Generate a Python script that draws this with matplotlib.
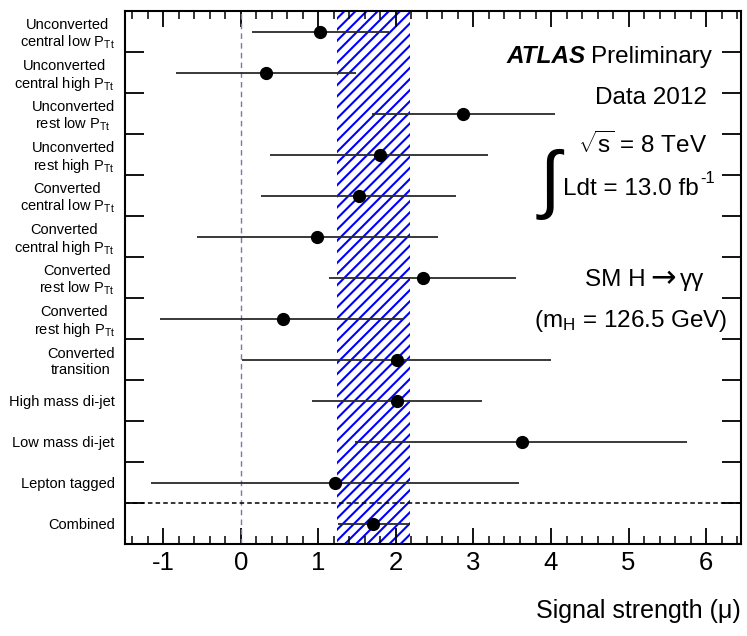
import matplotlib
matplotlib.use("Agg")
import matplotlib.pyplot as plt
from matplotlib.ticker import MultipleLocator, FixedLocator, NullFormatter, FixedFormatter
from matplotlib import font_manager
import numpy as np

# ---------------- data ----------------
categories = [
    "Unconverted\ncentral low P$_{\\mathregular{Tt}}$",
    "Unconverted\ncentral high P$_{\\mathregular{Tt}}$",
    "Unconverted\nrest low P$_{\\mathregular{Tt}}$",
    "Unconverted\nrest high P$_{\\mathregular{Tt}}$",
    "Converted\ncentral low P$_{\\mathregular{Tt}}$",
    "Converted\ncentral high P$_{\\mathregular{Tt}}$",
    "Converted\nrest low P$_{\\mathregular{Tt}}$",
    "Converted\nrest high P$_{\\mathregular{Tt}}$",
    "Converted\ntransition",
    "High mass di-jet",
    "Low mass di-jet",
    "Lepton tagged",
    "Combined",
]
mu_central = [1.02, 0.33, 2.86, 1.79, 1.52, 0.98, 2.35, 0.54, 2.01, 2.02, 3.63, 1.22, 1.71]
mu_low     = [0.14, -0.83, 1.69, 0.38, 0.26, -0.56, 1.14, -1.04, 0.02, 0.92, 1.47, -1.16, 1.25]
mu_high    = [1.91, 1.48, 4.05, 3.19, 2.77, 2.54, 3.55, 2.11, 4.00, 3.11, 5.76, 3.59, 2.17]
combined_band = (1.24, 2.18)
x_ticks = [-1, 0, 1, 2, 3, 4, 5, 6]
x_tick_labels = ["-1", "0", "1", "2", "3", "4", "5", "6"]

# ---------------- style ----------------
plt.rcParams['font.family'] = ['Liberation Sans', 'DejaVu Sans']
plt.rcParams['mathtext.fontset'] = 'custom'
plt.rcParams['mathtext.rm'] = 'Liberation Sans'
plt.rcParams['mathtext.it'] = 'Liberation Sans:italic'
plt.rcParams['mathtext.bf'] = 'Liberation Sans:bold'
plt.rcParams['axes.unicode_minus'] = False
plt.rcParams['hatch.color'] = '#0000ff'
plt.rcParams['hatch.linewidth'] = 1.5

# narrow font for the category labels if present
try:
    font_manager.findfont(font_manager.FontProperties(family='Liberation Sans Narrow'),
                          fallback_to_default=False)
    label_family = ['Liberation Sans Narrow', 'Liberation Sans', 'DejaVu Sans']
    label_size = 12
except Exception:
    label_family = ['Liberation Sans', 'DejaVu Sans']
    label_size = 10.5

fig = plt.figure(figsize=(7.47, 6.36), dpi=100)
ax = fig.add_axes([0.16667, 0.14465, 0.8253, 0.838])

n = len(categories)
ypos = np.arange(n)[::-1] + 0.5  # top row first

ax.set_xlim(-1.5, 6.45)
ax.set_ylim(0, n)

# hatched combined band
ax.axvspan(combined_band[0], combined_band[1], facecolor='white',
           edgecolor='#0000ff', hatch='///', linewidth=0, zorder=1)

# mu = 0 line
ax.axvline(0, color='#7a7aaa', linestyle=(0, (4, 3)), linewidth=1.0, zorder=2)

# separator between categories and combined
ax.axhline(1, color='black', linestyle=(0, (3, 2)), linewidth=1.1, zorder=2)

c = np.array(mu_central)
xerr = np.vstack([c - np.array(mu_low), np.array(mu_high) - c])
ax.errorbar(c, ypos, xerr=xerr, fmt='o', color='black', ecolor='#2a2a2a',
            elinewidth=1.3, markersize=8.5, capsize=0, zorder=4)

# axes frame and ticks
for s in ax.spines.values():
    s.set_linewidth(1.5)

ax.xaxis.set_major_locator(FixedLocator(x_ticks))
ax.xaxis.set_major_formatter(FixedFormatter(x_tick_labels))
ax.xaxis.set_minor_locator(MultipleLocator(0.2))
ax.tick_params(axis='x', which='major', direction='in', length=11.5, width=1.3,
               top=True, bottom=True, labelsize=18.5, pad=5)
ax.tick_params(axis='x', which='minor', direction='in', length=5.5, width=1.1,
               top=True, bottom=True)

# y: major ticks at row boundaries, labels at row centers (minor)
ax.yaxis.set_major_locator(FixedLocator(np.arange(1, n)))
ax.yaxis.set_major_formatter(NullFormatter())
ax.yaxis.set_minor_locator(FixedLocator(ypos))
ax.yaxis.set_minor_formatter(FixedFormatter(categories))
ax.tick_params(axis='y', which='major', direction='in', length=13.5, width=1.3,
               left=True, right=True)
ax.tick_params(axis='y', which='minor', length=0, labelsize=label_size, pad=7)
for lab in ax.yaxis.get_minorticklabels():
    lab.set_multialignment('center')
    lab.set_linespacing(1.15)
    lab.set_family(label_family)

# x label
ax.set_xlabel("Signal strength (\u03bc)", fontsize=18)
ax.xaxis.set_label_coords(1.0, -0.139)
ax.xaxis.label.set_ha('right')
ax.xaxis.label.set_va('baseline')

# annotation texts (positions in axes fraction)
def fx(px):
    return (px - 124.5) / 616.5

def fy(py):
    return (544 - py) / 533.0

fs = 17.5
tkw = dict(transform=ax.transAxes, ha='right', va='baseline', fontsize=fs)
renderer = fig.canvas.get_renderer()
inv = ax.transAxes.inverted()

def ax_x(px_disp):
    return inv.transform((px_disp, 0))[0]

prelim = ax.text(fx(712), fy(63), "Preliminary", **tkw)
bb = prelim.get_window_extent(renderer=renderer)
ax.text(ax_x(bb.x0 - 6), fy(63), "ATLAS", fontweight='bold', style='italic', **tkw)
ax.text(fx(707), fy(104), "Data 2012", **tkw)
ax.text(fx(707), fy(153), "$\\sqrt{\\mathregular{s}}$ = 8 TeV", **tkw)
ldt = ax.text(fx(699), fy(195), "Ldt = 13.0 fb", **tkw)
bb = ldt.get_window_extent(renderer=renderer)
ax.text(ax_x(bb.x1 + 1), fy(183), "-1", transform=ax.transAxes,
        ha='left', va='baseline', fontsize=12)
ax.text(fx(550), fy(184), "\u222b", transform=ax.transAxes, ha='center', va='center',
        fontsize=54, family=['Liberation Sans', 'DejaVu Sans'])

# SM H -> gamma gamma, assembled right to left
gg = ax.text(fx(704), fy(286), "\u03b3\u03b3", **tkw)
bb = gg.get_window_extent(renderer=renderer)
arr = ax.text(ax_x(bb.x0 - 4), fy(287), "\u2192", transform=ax.transAxes, ha='right',
              va='baseline', fontsize=22, family=['DejaVu Sans'])
bb = arr.get_window_extent(renderer=renderer)
ax.text(ax_x(bb.x0 - 5), fy(286), "SM H", **tkw)
ax.text(fx(727), fy(327), "(m$_{\\mathregular{H}}$ = 126.5 GeV)", **tkw)

fig.savefig("out.png", dpi=100)
